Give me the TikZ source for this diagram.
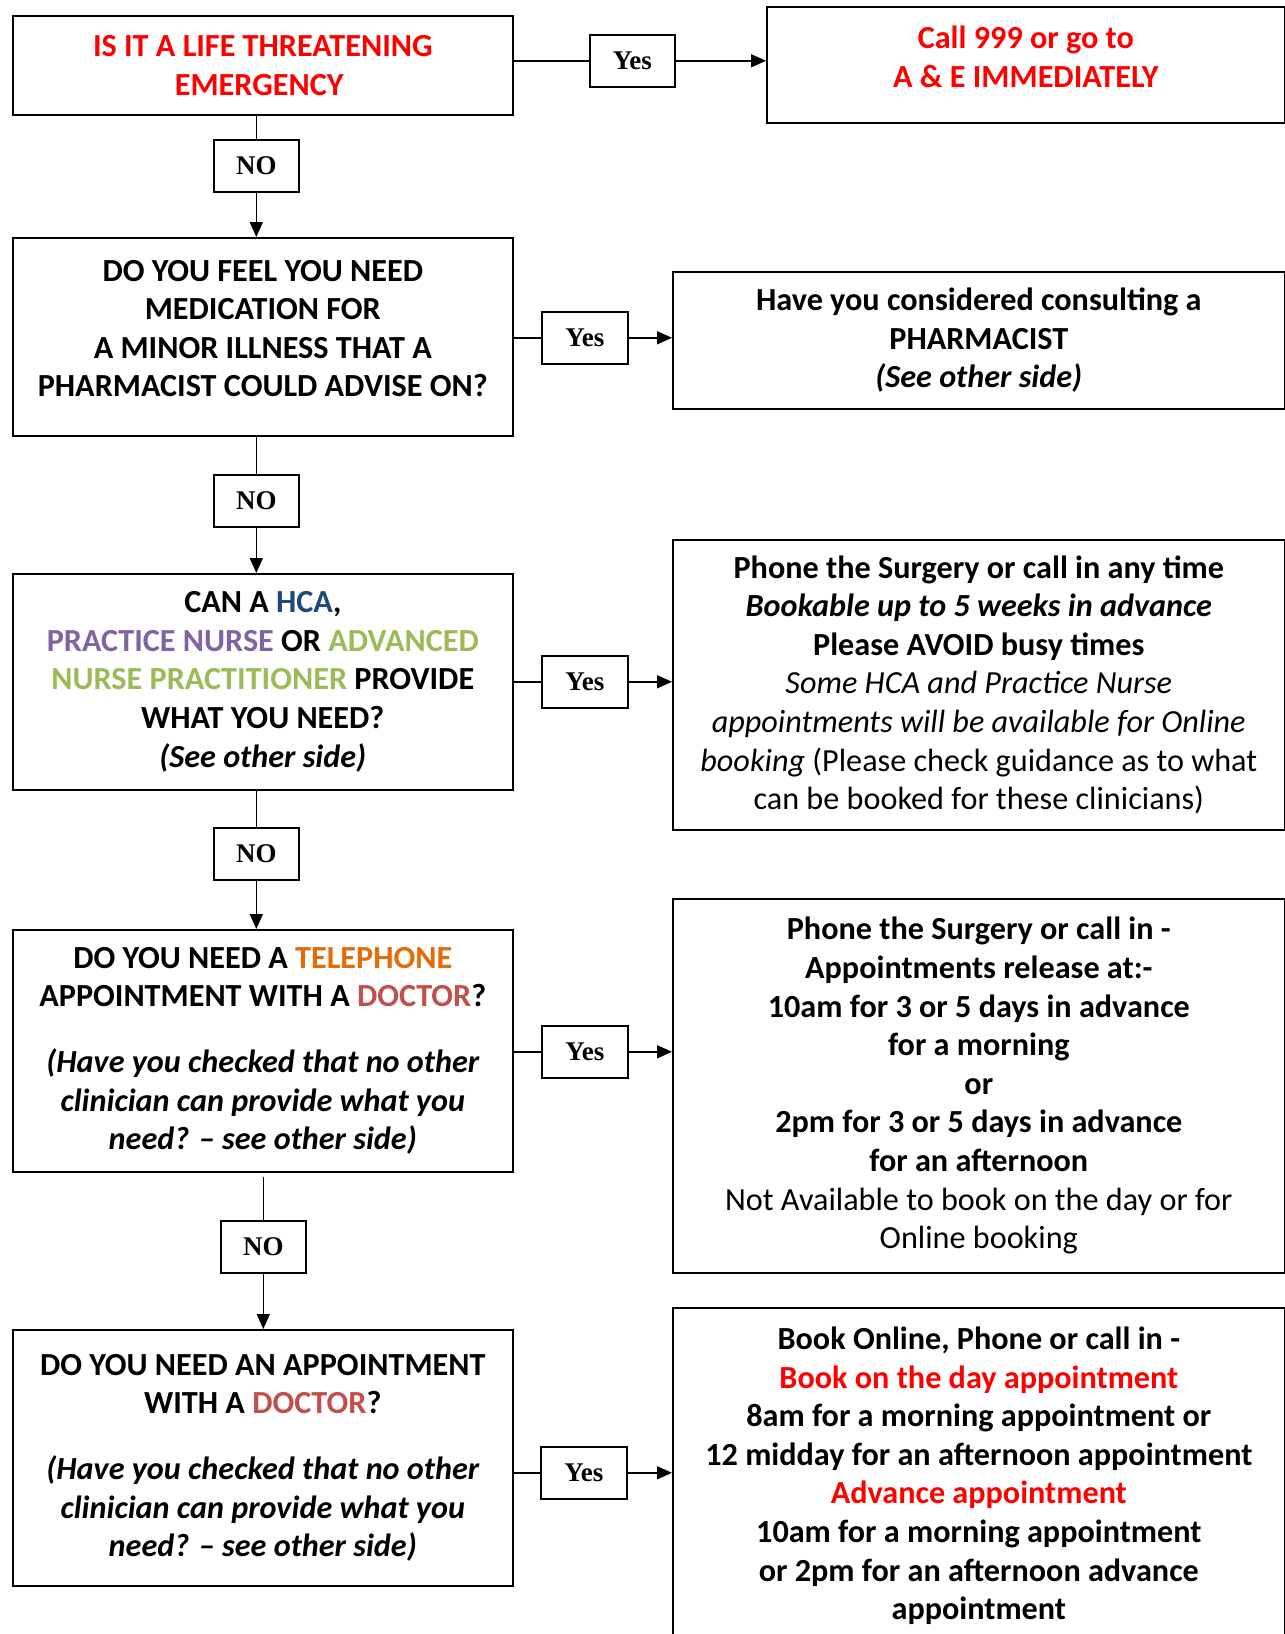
\documentclass[tikz,border=0pt]{standalone}
\usepackage{fontspec}
\setmainfont{Carlito}
\newfontfamily\tagfamily{Liberation Serif}
\usepackage{tikz}
\definecolor{alertred}{HTML}{FF0000}
\definecolor{hcablue}{HTML}{1F497D}
\definecolor{nursepurple}{HTML}{8064A2}
\definecolor{anpgreen}{HTML}{9BBB59}
\definecolor{phoneorange}{HTML}{E36C09}
\definecolor{doctorred}{HTML}{C0504D}
\tikzset{
  box_font/.style = {font=\fontsize{16.1}{19.3}\selectfont\bfseries},
  tag_font/.style = {font=\tagfamily\fontsize{13.5}{16}\selectfont\bfseries},
  left_size/.style = {minimum width=250pt},
  right_size/.style = {minimum width=306pt}
}
\tikzset{
  question/.style = {box_font, left_size, draw, line width=0.8pt, align=center, anchor=north west, inner sep=0},
  answer/.style = {box_font, right_size, draw, line width=0.8pt, align=center, anchor=north west, inner sep=0},
  tag/.style = {tag_font, draw, line width=0.8pt, minimum width=42.5pt, minimum height=26pt, anchor=north west, inner sep=0},
  link/.style = {line width=0.8pt},
  flow/.style = {link, -{Triangle[length=7.5pt, width=6.5pt]}}
}
\usetikzlibrary{arrows.meta, calc}

\begin{document}
\begin{tikzpicture}[x=0.5pt, y=-0.5pt]
        \useasboundingbox (0,0) rectangle (1285,1634);

        % Questions
        \node[question, minimum height=49.5pt] at (12,15) (emergency) {
            \color{alertred}IS IT A LIFE THREATENING\\
            \color{alertred}EMERGENCY
            };
        \node[question, minimum height=99pt] at (12,237) (pharm_q) {
            DO YOU FEEL YOU NEED\\
            MEDICATION FOR\\
            A MINOR ILLNESS THAT A\\
            PHARMACIST COULD ADVISE ON?\\[-11pt]
            \mbox{}
            };
        \node[question, minimum height=108pt] at (12,573) (nurse_q) {
            CAN A \textcolor{hcablue}{HCA},\\
            \textcolor{nursepurple}{PRACTICE NURSE} OR \textcolor{anpgreen}{ADVANCED}\\
            \textcolor{anpgreen}{NURSE PRACTITIONER} PROVIDE\\
            WHAT YOU NEED?\\
            \itshape (See other side)
            };
        \node[question, minimum height=121pt] at (12,929) (phone_q) {
            DO YOU NEED A \textcolor{phoneorange}{TELEPHONE}\\
            APPOINTMENT WITH A \textcolor{doctorred}{DOCTOR}?\\[13.5pt]
            \itshape (Have you checked that no other\\
            \itshape clinician can provide what you\\
            \itshape need? – see other side)
            };
        \node[question, minimum height=128pt] at (12,1329) (doctor_q) {
            DO YOU NEED AN APPOINTMENT\\
            WITH A \textcolor{doctorred}{DOCTOR}?\\[13.5pt]
            \itshape (Have you checked that no other\\
            \itshape clinician can provide what you\\
            \itshape need? – see other side)
            };

        % Answers
        \node[answer, minimum width=259pt, minimum height=58pt] at (766,6) (call_999) {
            \color{alertred}Call 999 or go to\\
            \color{alertred}A \& E IMMEDIATELY\\[-11pt]
            \mbox{}
            };
        \node[answer, minimum height=68.5pt] at (672,271) (pharm_a) {
            Have you considered consulting a\\
            PHARMACIST\\
            \itshape (See other side)
            };
        \node[answer, minimum height=145pt] at (672,539) (nurse_a) {
            Phone the Surgery or call in any time\\
            \itshape Bookable up to 5 weeks in advance\\
            Please AVOID busy times\\
            \mdseries\itshape Some HCA and Practice Nurse\\
            \mdseries\itshape appointments will be available for Online\\
            \mdseries{\itshape booking} (Please check guidance as to what\\
            \mdseries can be booked for these clinicians)
            };
        \node[answer, minimum height=187pt] at (672,898) (phone_a) {
            Phone the Surgery or call in -\\
            Appointments release at:-\\
            10am for 3 or 5 days in advance\\
            for a morning\\
            or\\
            2pm for 3 or 5 days in advance\\
            for an afternoon\\
            \mdseries Not Available to book on the day or for\\
            \mdseries Online booking
            };
        \node[answer, minimum height=168pt] at (672,1307) (doctor_a) {
            Book Online, Phone or call in -\\
            \color{alertred}Book on the day appointment\\
            8am for a morning appointment or\\
            12 midday for an afternoon appointment\\
            \color{alertred}Advance appointment\\
            10am for a morning appointment\\
            or 2pm for an afternoon advance\\
            appointment
            };

        % Yes and NO tags
        \node[tag] at (589,34) (yes_1) {Yes};
        \node[tag, minimum width=43pt] at (541,311) (yes_2) {Yes};
        \node[tag, minimum width=43pt] at (541,655) (yes_3) {Yes};
        \node[tag, minimum width=43pt] at (541,1025) (yes_4) {Yes};
        \node[tag, minimum width=43pt] at (540,1446) (yes_5) {Yes};
        \node[tag] at (213,139) (no_1) {NO};
        \node[tag] at (213,474) (no_2) {NO};
        \node[tag] at (213,827) (no_3) {NO};
        \node[tag] at (220,1220) (no_4) {NO};

        % Arrows and lines
        \draw[link] (yes_1.west -| emergency.east)--(yes_1.west);
        \draw[flow] (yes_1.east)--(yes_1.east -| call_999.west);
        \draw[link] (yes_2.west -| pharm_q.east)--(yes_2.west);
        \draw[flow] (yes_2.east)--(yes_2.east -| pharm_a.west);
        \draw[link] (yes_3.west -| nurse_q.east)--(yes_3.west);
        \draw[flow] (yes_3.east)--(yes_3.east -| nurse_a.west);
        \draw[link] (yes_4.west -| phone_q.east)--(yes_4.west);
        \draw[flow] (yes_4.east)--(yes_4.east -| phone_a.west);
        \draw[link] (yes_5.west -| doctor_q.east)--(yes_5.west);
        \draw[flow] (yes_5.east)--(yes_5.east -| doctor_a.west);

        \draw[link] (no_1.north |- emergency.south)--(no_1.north);
        \draw[flow] (no_1.south)--(no_1.south |- pharm_q.north);
        \draw[link] (no_2.north |- pharm_q.south)--(no_2.north);
        \draw[flow] (no_2.south)--(no_2.south |- nurse_q.north);
        \draw[link] (no_3.north |- nurse_q.south)--(no_3.north);
        \draw[flow] (no_3.south)--(no_3.south |- phone_q.north);
        \draw[link] ($(no_4.north |- phone_q.south)+(0,4)$)--(no_4.north);
        \draw[flow] (no_4.south)--(no_4.south |- doctor_q.north);
    \end{tikzpicture}
\end{document}
